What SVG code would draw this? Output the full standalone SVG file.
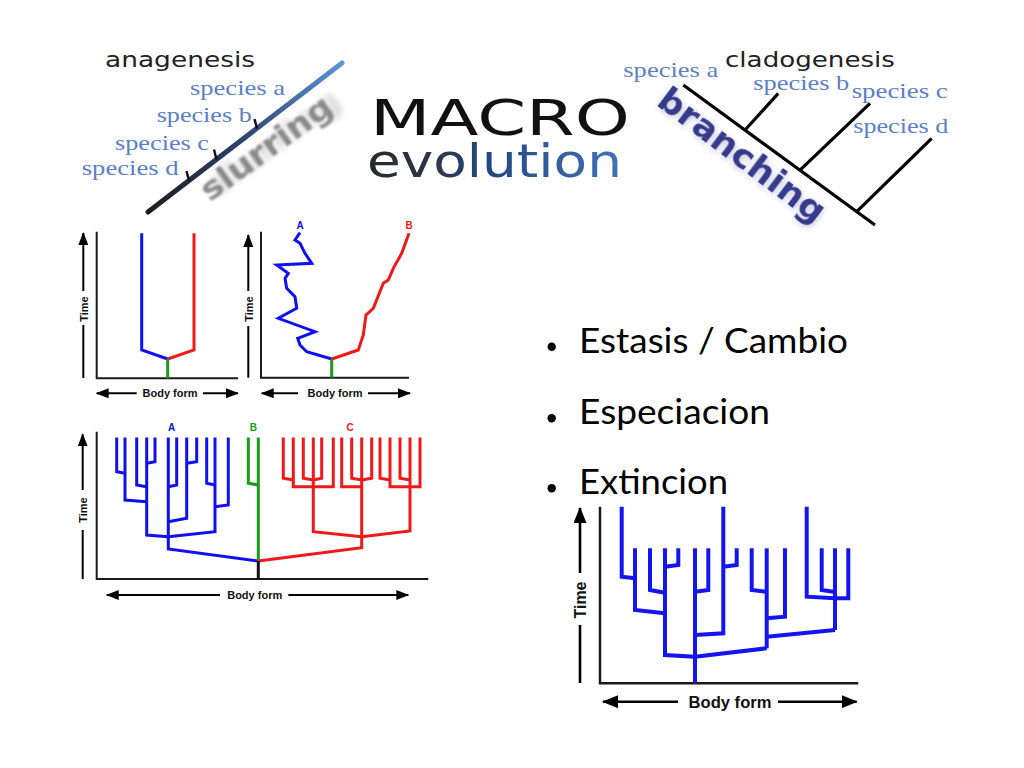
<svg xmlns="http://www.w3.org/2000/svg" width="1024" height="768" viewBox="0 0 1024 768">
<defs>
<style>
.ax{fill:none;stroke:#1a1a1a;stroke-width:2}
.ax4{fill:none;stroke:#1a1a1a;stroke-width:2.5}
.arw{fill:none;stroke:#000;stroke-width:2;marker-end:url(#ah)}
.ln{fill:none;stroke:#000;stroke-width:2}
.arw4{fill:none;stroke:#000;stroke-width:2.6;marker-end:url(#ah4)}
.ln4{fill:none;stroke:#000;stroke-width:2.6}
.lbl{font-family:"Liberation Sans",Arial,sans-serif;font-weight:bold;font-size:11px;fill:#111}
.lbl4{font-family:"Liberation Sans",Arial,sans-serif;font-weight:bold;font-size:16px;fill:#111}
.tag{font-family:"Liberation Sans",Arial,sans-serif;font-weight:bold;font-size:10px;text-anchor:middle}
.b{fill:none;stroke:#1010ee;stroke-width:3}
.r{fill:none;stroke:#ee1a1a;stroke-width:3}
.g{fill:none;stroke:#1a9a1a;stroke-width:3}
.k{fill:none;stroke:#111;stroke-width:3}
.b4{fill:none;stroke:#1414f0;stroke-width:4}
.sp{font-family:"Liberation Serif","Times New Roman",serif;font-size:22px;fill:#5b80c4}
.hd{font-family:"DejaVu Sans",Verdana,sans-serif;font-size:22px;fill:#222}
.bul{font-family:Lato,"Open Sans",sans-serif;font-size:34px;fill:#000}
.tk{fill:none;stroke:#111;stroke-width:2.5}
</style>
<marker id="ah" markerUnits="userSpaceOnUse" markerWidth="13" markerHeight="10" viewBox="0 0 13 10" refX="12" refY="5" orient="auto"><path d="M0,0 L13,5 L0,10 Z" fill="#000"/></marker>
<marker id="ah4" markerUnits="userSpaceOnUse" markerWidth="16" markerHeight="13" viewBox="0 0 16 13" refX="15" refY="6.5" orient="auto"><path d="M0,0 L16,6.5 L0,13 Z" fill="#000"/></marker>
<linearGradient id="anaG" gradientUnits="userSpaceOnUse" x1="148" y1="212" x2="342" y2="63">
<stop offset="0" stop-color="#1e1e1e"/><stop offset="0.45" stop-color="#2a3f66"/><stop offset="1" stop-color="#5f93d8"/>
</linearGradient>
<linearGradient id="evoG" gradientUnits="userSpaceOnUse" x1="367" y1="0" x2="622" y2="0">
<stop offset="0" stop-color="#2a2a2a"/><stop offset="0.3" stop-color="#2e3850"/><stop offset="0.45" stop-color="#22457e"/><stop offset="1" stop-color="#4272b6"/>
</linearGradient>
<filter id="blur1" x="-20%" y="-50%" width="140%" height="200%"><feGaussianBlur stdDeviation="1.1"/></filter>
<filter id="blur3" x="-20%" y="-50%" width="140%" height="200%"><feGaussianBlur stdDeviation="3"/></filter>
<filter id="soft" x="-10%" y="-30%" width="120%" height="160%"><feGaussianBlur stdDeviation="0.6"/></filter>
</defs>
<rect width="1024" height="768" fill="#fff"/>

<g id="title">
<text x="370" y="135" font-family="'DejaVu Sans',Verdana,sans-serif" font-size="50" fill="#111" textLength="260" lengthAdjust="spacingAndGlyphs">MACRO</text>
<text x="367" y="177" font-family="'DejaVu Sans',Verdana,sans-serif" font-size="47" fill="url(#evoG)" textLength="255" lengthAdjust="spacingAndGlyphs">evolution</text>
</g>

<g id="anagenesis">
<g transform="translate(272.6,157) rotate(-36)">
<text x="10" y="0" text-anchor="middle" font-family="'DejaVu Sans',sans-serif" font-weight="bold" font-size="32" fill="#bbb" opacity="0.6" filter="url(#blur3)" textLength="155" lengthAdjust="spacingAndGlyphs">slurring</text>
<text x="0" y="0" text-anchor="middle" font-family="'DejaVu Sans',sans-serif" font-weight="bold" font-size="32" fill="#8a8a8a" filter="url(#blur1)" textLength="155" lengthAdjust="spacingAndGlyphs">slurring</text>
</g>
<line x1="148" y1="212" x2="342" y2="63" stroke="url(#anaG)" stroke-width="5" stroke-linecap="round" filter="url(#soft)"/>
<line class="tk" x1="254.5" y1="119" x2="257" y2="128.5"/>
<line class="tk" x1="214" y1="149.5" x2="216.5" y2="159.5"/>
<line class="tk" x1="186.5" y1="171" x2="189" y2="180.5"/>
<text class="hd" x="105" y="66.7" textLength="150" lengthAdjust="spacingAndGlyphs">anagenesis</text>
<text class="sp" x="190" y="95" textLength="95" lengthAdjust="spacingAndGlyphs">species a</text>
<text class="sp" x="156.7" y="121.7" textLength="95" lengthAdjust="spacingAndGlyphs">species b</text>
<text class="sp" x="115" y="150" textLength="94" lengthAdjust="spacingAndGlyphs">species c</text>
<text class="sp" x="81.7" y="175" textLength="97" lengthAdjust="spacingAndGlyphs">species d</text>
</g>

<g id="cladogenesis">
<g transform="translate(735,164.5) rotate(37)">
<text x="1.5" y="1.5" text-anchor="middle" font-family="'DejaVu Sans',sans-serif" font-weight="bold" font-size="34" fill="#9a9cc8" opacity="0.6" filter="url(#blur3)" textLength="200" lengthAdjust="spacingAndGlyphs">branching</text>
<text x="0" y="0" text-anchor="middle" font-family="'DejaVu Sans',sans-serif" font-weight="bold" font-size="34" fill="#363a8a" filter="url(#soft)" textLength="200" lengthAdjust="spacingAndGlyphs">branching</text>
</g>
<g fill="none" stroke="#000" stroke-width="3.2">
<line x1="683.3" y1="85" x2="875" y2="225"/>
<line x1="745" y1="130" x2="778.3" y2="93.3"/>
<line x1="800" y1="170.2" x2="870" y2="103.3"/>
<line x1="856.7" y1="211.6" x2="931.7" y2="138.3"/>
</g>
<text class="hd" x="725" y="66.7" textLength="170" lengthAdjust="spacingAndGlyphs">cladogenesis</text>
<text class="sp" x="623.3" y="76.7" textLength="95" lengthAdjust="spacingAndGlyphs">species a</text>
<text class="sp" x="753.3" y="90" textLength="96" lengthAdjust="spacingAndGlyphs">species b</text>
<text class="sp" x="851.7" y="98.3" textLength="96" lengthAdjust="spacingAndGlyphs">species c</text>
<text class="sp" x="853.3" y="133.3" textLength="95" lengthAdjust="spacingAndGlyphs">species d</text>
</g>

<g id="chart1">
<path class="ax" d="M96.7,231.7 V378.3 H238"/>
<line class="arw" x1="83.3" y1="291" x2="83.3" y2="233"/>
<line class="ln" x1="83.3" y1="325" x2="83.3" y2="378"/>
<line class="arw" x1="136.7" y1="393.3" x2="96.7" y2="393.3"/>
<line class="arw" x1="203" y1="393.3" x2="238" y2="393.3"/>
<polyline class="b" points="141.7,233.3 141.7,350 167.7,359"/>
<polyline class="r" points="167.7,359 194,350 194,233.3"/>
<line class="g" x1="167.7" y1="359" x2="167.7" y2="378.3"/>
<text class="lbl" transform="translate(87.5,309) rotate(-90)" text-anchor="middle">Time</text>
<text class="lbl" x="170" y="397.3" text-anchor="middle">Body form</text>
</g>

<g id="chart2">
<path class="ax" d="M261,231.7 V377.7 H409"/>
<line class="arw" x1="248.3" y1="291" x2="248.3" y2="235"/>
<line class="ln" x1="248.3" y1="326" x2="248.3" y2="377.7"/>
<line class="arw" x1="298" y1="393.3" x2="261.7" y2="393.3"/>
<line class="arw" x1="368" y1="393.3" x2="410" y2="393.3"/>
<polyline class="b" points="331.7,359 306.7,351.7 300,345 297.7,338.3 315,331.7 278.3,318.3 296.7,308.3 295,296.7 286.7,288.3 285,278.3 288.3,273.3 276.7,265 311.7,263.3 305,253.3 300,243.3 295,240 300,232.7"/>
<polyline class="r" points="331.7,359 358.3,350 363.3,335 366,315 373.3,308.3 383.3,283.3 388.3,280 393.3,268.3 401.7,253.3 409,233.3"/>
<line class="g" x1="331.7" y1="359" x2="331.7" y2="377.7"/>
<text class="tag" x="300" y="229" fill="#1010ee">A</text>
<text class="tag" x="409" y="229" fill="#ee1a1a">B</text>
<text class="lbl" transform="translate(252.5,309) rotate(-90)" text-anchor="middle">Time</text>
<text class="lbl" x="335" y="397.3" text-anchor="middle">Body form</text>
</g>

<g id="chart3">
<path class="ax" d="M96.7,431.7 V579 H428.3"/>
<line class="arw" x1="82.7" y1="490" x2="82.7" y2="434.3"/>
<line class="ln" x1="82.7" y1="530" x2="82.7" y2="579"/>
<line class="arw" x1="220" y1="595" x2="106.7" y2="595"/>
<line class="arw" x1="288.3" y1="595" x2="408.3" y2="595"/>
<g class="b">
<polyline points="116.7,437.5 116.7,471.7 125,473.3"/>
<polyline points="125,437.5 125,500 146.7,501.7"/>
<polyline points="136.7,437.5 136.7,485 146.7,486.7"/>
<polyline points="155,437.5 155,461.7 146.7,463.3"/>
<polyline points="146.7,437.5 146.7,535 168.3,536.7"/>
<polyline points="176.7,437.5 176.7,485 168.3,486.7"/>
<polyline points="196.7,437.5 196.7,461.7 186.7,463.3"/>
<polyline points="186.7,437.5 186.7,518.3 168.3,521.7"/>
<polyline points="206.7,437.5 206.7,483.3 215,485"/>
<polyline points="228.3,437.5 228.3,505 215,506.7"/>
<polyline points="215,437.5 215,531.7 168.3,536.7"/>
<polyline points="168.3,437.5 168.3,549 258.3,561"/>
</g>
<g class="g">
<polyline points="248.3,437.5 248.3,483.3 258.3,485"/>
<polyline points="258.3,437.5 258.3,561"/>
</g>
<g class="r">
<polyline points="283.3,437.5 283.3,478.3 293.3,480"/>
<polyline points="293.3,437.5 293.3,486.7 313.3,486.7"/>
<polyline points="303.3,437.5 303.3,478.3 313.3,480"/>
<polyline points="321.7,437.5 321.7,478.3 313.3,480"/>
<polyline points="333.3,437.5 333.3,486.7 313.3,486.7"/>
<polyline points="313.3,437.5 313.3,531.7 361.7,536.7"/>
<polyline points="341.7,437.5 341.7,486.7 361.7,486.7"/>
<polyline points="351.7,437.5 351.7,478.3 361.7,480"/>
<polyline points="371.7,437.5 371.7,478.3 361.7,480"/>
<polyline points="380,437.5 380,478.3 390,480"/>
<polyline points="390,437.5 390,486.7 410,486.7"/>
<polyline points="400,437.5 400,478.3 410,480"/>
<polyline points="420,437.5 420,486.7 410,486.7"/>
<polyline points="410,437.5 410,531 361.7,536.7"/>
<polyline points="361.7,437.5 361.7,547.7 258.3,561"/>
</g>
<line class="k" x1="258.3" y1="561" x2="258.3" y2="579"/>
<text class="tag" x="171.7" y="430.5" fill="#1010ee">A</text>
<text class="tag" x="253.3" y="430.5" fill="#1a9a1a">B</text>
<text class="tag" x="350" y="430.5" fill="#ee1a1a">C</text>
<text class="lbl" transform="translate(86.9,510) rotate(-90)" text-anchor="middle">Time</text>
<text class="lbl" x="254.7" y="599" text-anchor="middle">Body form</text>
</g>

<g id="bullets">
<circle cx="551.7" cy="346.7" r="4.2"/>
<circle cx="551.7" cy="418.3" r="4.2"/>
<circle cx="551.7" cy="488.3" r="4.2"/>
<text class="bul" x="579" y="353" textLength="269" lengthAdjust="spacingAndGlyphs">Estasis / Cambio</text>
<text class="bul" x="579" y="424" textLength="191" lengthAdjust="spacingAndGlyphs">Especiacion</text>
<text class="bul" x="579" y="493.5" textLength="149" lengthAdjust="spacingAndGlyphs">Extincion</text>
</g>

<g id="chart4">
<path class="ax4" d="M600,506.7 V683.3 H858.3"/>
<line class="arw4" x1="580" y1="573" x2="580" y2="508"/>
<line class="ln4" x1="580" y1="625" x2="580" y2="683"/>
<line class="arw4" x1="678" y1="701.7" x2="603" y2="701.7"/>
<line class="arw4" x1="778" y1="701.7" x2="856.7" y2="701.7"/>
<g class="b4">
<polyline points="621.7,506.7 621.7,576.7 635,578.3"/>
<polyline points="635,548.3 635,610 665,613.3"/>
<polyline points="650,548.3 650,590 665,592.7"/>
<polyline points="678.3,548.3 678.3,565 665,566.7"/>
<polyline points="665,548.3 665,655 695,656.7"/>
<polyline points="695,548.3 695,683.3"/>
<polyline points="708.3,548.3 708.3,590 695,591.7"/>
<polyline points="723.3,506.7 723.3,633.3 695,635"/>
<polyline points="736.7,548.3 736.7,565 723.3,566.7"/>
<polyline points="695,656.7 766.7,648.3"/>
<polyline points="751.7,548.3 751.7,590 766.7,591.7"/>
<polyline points="766.7,548.3 766.7,648.3"/>
<polyline points="785,548.3 785,616.7 766.7,618.3"/>
<polyline points="766.7,636.7 835,630"/>
<polyline points="806.7,506.7 806.7,596.7 835,598.3"/>
<polyline points="821.7,548.3 821.7,590 835,592"/>
<polyline points="835,548.3 835,630"/>
<polyline points="848.3,548.3 848.3,598.3 835,598.3"/>
</g>
<text class="lbl4" transform="translate(585.5,600) rotate(-90)" text-anchor="middle" font-size="15">Time</text>
<text class="lbl4" x="730" y="707.5" text-anchor="middle" textLength="83" lengthAdjust="spacingAndGlyphs">Body form</text>
</g>
</svg>
